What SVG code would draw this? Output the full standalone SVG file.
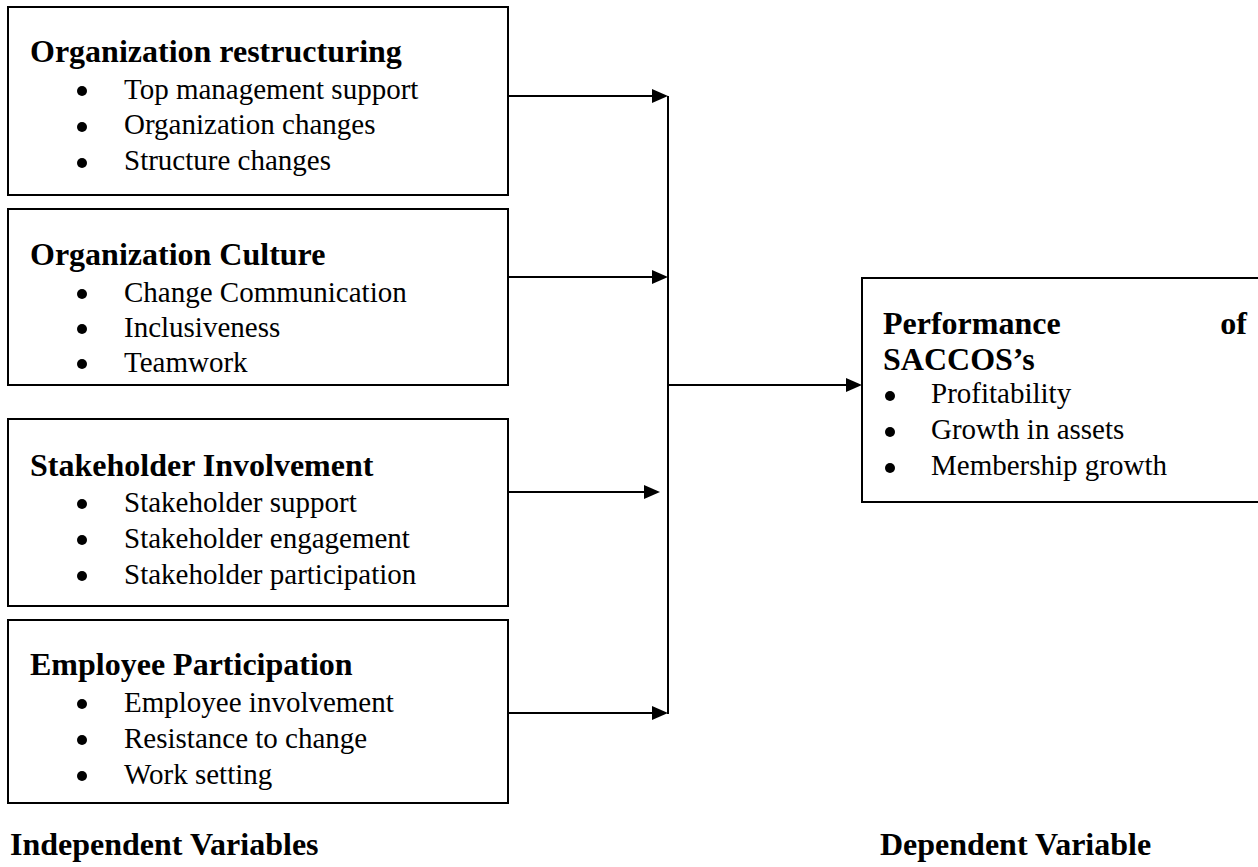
<svg xmlns="http://www.w3.org/2000/svg" width="1258" height="867" viewBox="0 0 1258 867">
<style>
.box{fill:#fff;stroke:#000;stroke-width:2}
.t{font-family:"Liberation Serif","Times New Roman",serif;font-weight:bold;font-size:32px;fill:#000}
.i{font-family:"Liberation Serif","Times New Roman",serif;font-size:29px;fill:#000}
.b{fill:#000}
.c{stroke:#000;stroke-width:2;fill:none}
</style>
<defs>
<marker id="ah" markerUnits="userSpaceOnUse" markerWidth="16" markerHeight="14" refX="2" refY="7" orient="auto">
<path d="M0,0 L16,7 L0,14 Z" fill="#000"/>
</marker>
</defs>
<rect width="1258" height="867" fill="#fff"/>

<g id="node-restructuring">
<rect class="box" x="8" y="7" width="500" height="188"/>
<text class="t" x="30" y="62">Organization restructuring</text>
<circle class="b" cx="82" cy="91" r="5"/>
<circle class="b" cx="82" cy="127" r="5"/>
<circle class="b" cx="82" cy="163" r="5"/>
<text class="i" x="124" y="99">Top management support</text>
<text class="i" x="124" y="134">Organization changes</text>
<text class="i" x="124" y="170">Structure changes</text>
</g>

<g id="node-culture">
<rect class="box" x="8" y="209" width="500" height="176"/>
<text class="t" x="30" y="265">Organization Culture</text>
<circle class="b" cx="82" cy="294" r="5"/>
<circle class="b" cx="82" cy="329" r="5"/>
<circle class="b" cx="82" cy="364" r="5"/>
<text class="i" x="124" y="302">Change Communication</text>
<text class="i" x="124" y="337">Inclusiveness</text>
<text class="i" x="124" y="372">Teamwork</text>
</g>

<g id="node-stakeholder">
<rect class="box" x="8" y="419" width="500" height="187"/>
<text class="t" x="30" y="476">Stakeholder Involvement</text>
<circle class="b" cx="82" cy="504" r="5"/>
<circle class="b" cx="82" cy="540" r="5"/>
<circle class="b" cx="82" cy="576" r="5"/>
<text class="i" x="124" y="512">Stakeholder support</text>
<text class="i" x="124" y="548">Stakeholder engagement</text>
<text class="i" x="124" y="584">Stakeholder participation</text>
</g>

<g id="node-employee">
<rect class="box" x="8" y="620" width="500" height="183"/>
<text class="t" x="30" y="675">Employee Participation</text>
<circle class="b" cx="82" cy="704" r="5"/>
<circle class="b" cx="82" cy="740" r="5"/>
<circle class="b" cx="82" cy="776" r="5"/>
<text class="i" x="124" y="712">Employee involvement</text>
<text class="i" x="124" y="748">Resistance to change</text>
<text class="i" x="124" y="784">Work setting</text>
</g>

<g id="node-performance">
<rect class="box" x="862" y="278" width="410" height="224"/>
<text class="t" x="883" y="334">Performance</text>
<text class="t" x="1247" y="334" text-anchor="end">of</text>
<text class="t" x="883" y="370">SACCOS’s</text>
<circle class="b" cx="890" cy="396" r="5"/>
<circle class="b" cx="890" cy="432" r="5"/>
<circle class="b" cx="890" cy="468" r="5"/>
<text class="i" x="931" y="403">Profitability</text>
<text class="i" x="931" y="439">Growth in assets</text>
<text class="i" x="931" y="475">Membership growth</text>
</g>

<g id="connectors">
<line class="c" x1="668" y1="96" x2="668" y2="714"/>
<line class="c" x1="508" y1="96" x2="654" y2="96" marker-end="url(#ah)"/>
<line class="c" x1="508" y1="277" x2="654" y2="277" marker-end="url(#ah)"/>
<line class="c" x1="508" y1="492" x2="646" y2="492" marker-end="url(#ah)"/>
<line class="c" x1="508" y1="713" x2="654" y2="713" marker-end="url(#ah)"/>
<line class="c" x1="668" y1="385" x2="848" y2="385" marker-end="url(#ah)"/>
</g>

<g id="labels">
<text class="t" x="10" y="855">Independent Variables</text>
<text class="t" x="880" y="855">Dependent Variable</text>
</g>
</svg>
